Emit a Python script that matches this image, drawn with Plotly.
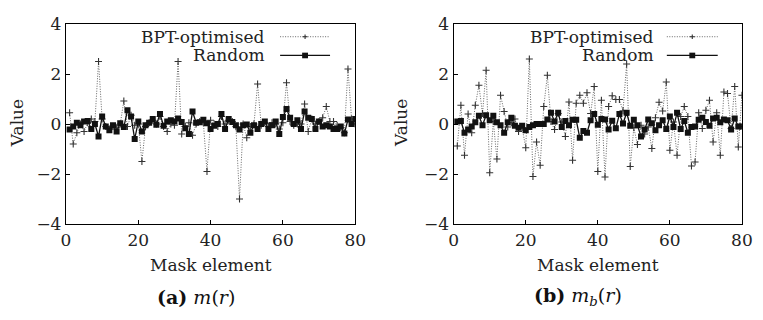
import plotly.graph_objects as go
from plotly.subplots import make_subplots

W, H = 763, 320

mask_element = list(range(1, 81))

# (a) m(r)
bpt_a = [0.45, -0.8, -0.35, 0.0, -0.3, 0.05, 0.2, 0.1, 2.5, 0.2,
         -0.1, -0.2, -0.1, -0.15, 0.0, 0.92, -0.1, 0.35, -0.05, 0.0,
         -1.5, -0.1, 0.05, 0.15, 0.0, 0.3, -0.1, -0.3, 0.0, -0.05,
         2.5, -0.4, -0.1, 0.05, -0.45, 0.0, 0.1, 0.05, -1.9, 0.15,
         0.0, -0.1, 0.3, 0.0, 0.15, 0.1, -0.1, -3.0, 0.0, -0.55,
         -0.1, 0.0, 1.6, -0.05, 0.05, -0.1, 0.05, 0.0, -0.2, 0.05,
         1.65, 0.1, -0.05, 0.0, 0.0, 0.8, -0.3, 0.2, 0.0, 0.1,
         0.25, 0.7, 0.1, 0.1, -0.05, -0.15, -0.35, 2.2, 0.2, 0.0]
random_a = [-0.22, -0.1, 0.05, -0.05, 0.1, 0.12, -0.2, 0.0, -0.5, 0.3,
            -0.1, -0.25, -0.05, -0.3, 0.03, -0.12, 0.55, 0.3, -0.6, 0.1,
            -0.3, -0.05, 0.05, 0.2, -0.03, 0.4, -0.07, 0.1, 0.15, 0.1,
            0.22, 0.08, -0.17, -0.4, 0.5, 0.05, 0.07, 0.17, 0.03, -0.2,
            -0.07, 0.0, 0.4, -0.2, 0.2, 0.08, -0.05, -0.22, -0.05, -0.02,
            -0.35, -0.05, -0.2, 0.0, 0.1, -0.2, -0.05, 0.1, -0.4, 0.28,
            0.6, 0.25, 0.0, 0.15, -0.2, 0.5, 0.25, 0.2, -0.2, 0.1,
            -0.1, -0.05, -0.1, -0.2, -0.2, -0.1, -0.38, 0.18, 0.0, 0.2]

# (b) m_b(r)
bpt_b = [-0.88, 0.75, -1.25, 0.4, -0.35, 0.75, 1.55, 0.42, 2.15, -1.95,
         0.1, -1.4, 1.15, 0.5, -0.12, 0.05, 0.2, -0.3, -0.15, -0.95,
         2.6, -2.1, -0.72, -1.65, 0.7, 1.95, 0.1, -0.22, 0.42, 0.08,
         -0.5, 0.88, -1.45, 0.83, 1.15, 0.83, 1.25, 0.42, 1.5, -1.9,
         0.95, -2.12, 0.7, 1.13, 0.98, 0.98, 0.53, 2.4, -1.7, -0.15,
         -0.82, -0.05, -0.4, -0.12, -0.98, 0.25, 0.87, 0.52, 1.68, -1.05,
         0.08, -1.25, 0.3, 0.7, 0.3, -1.68, -1.52, 0.45, -0.18, 0.55,
         0.95, -0.72, 0.45, -1.25, 1.28, 1.22, -0.18, 1.5, -0.92, 1.15]
random_b = [0.1, 0.12, -0.35, -0.22, -0.1, 0.07, 0.33, -0.05, 0.35, 0.15,
            0.33, 0.07, -0.05, -0.35, 0.07, 0.25, -0.07, -0.15, -0.07, -0.25,
            -0.12, -0.05, 0.0, 0.0, 0.0, 0.18, 0.45, 0.1, 0.45, -0.12,
            0.12, -0.05, 0.17, 0.17, -0.55, -0.28, -0.35, 0.15, 0.4, -0.03,
            0.2, 0.18, -0.22, 0.13, -0.17, 0.4, 0.02, 0.45, -0.07, 0.17,
            -0.05, -0.5, -0.22, 0.18, 0.03, -0.25, -0.05, 0.15, -0.2, 0.3,
            -0.12, 0.45, -0.2, 0.12, -0.35, -0.12, -0.1, 0.17, 0.25, 0.08,
            -0.07, 0.22, 0.25, 0.07, 0.18, 0.15, -0.22, 0.22, -0.1, -0.1]

x_ticks = [0, 20, 40, 60, 80]
y_ticks = [-4, -2, 0, 2, 4]
y_tick_text = ["\u22124", "\u22122", "0", "2", "4"]
series_names = ["BPT-optimised", "Random"]
panel_titles = ["<b>(a)</b> <i>m</i>(<i>r</i>)",
                "<b>(b)</b> <i>m</i><sub><i>b</i></sub>(<i>r</i>)"]

FONT = "DejaVu Serif"
BPT_COLOR = "#666666"
RND_COLOR = "#111111"

def px(x):
    return x / W

def py(y):
    return 1 - y / H

fig = make_subplots(rows=1, cols=2)

panels = [(bpt_a, random_a), (bpt_b, random_b)]
for i, (bpt, rnd) in enumerate(panels, start=1):
    fig.add_trace(go.Scatter(
        x=mask_element, y=bpt, mode="lines+markers", name=series_names[0],
        line=dict(color=BPT_COLOR, width=1, dash="1px,1.5px"),
        marker=dict(symbol="cross-thin", size=5, line=dict(color="#333333", width=1.1)),
        showlegend=False), row=1, col=i)
    fig.add_trace(go.Scatter(
        x=mask_element, y=rnd, mode="lines+markers", name=series_names[1],
        line=dict(color=RND_COLOR, width=1.3),
        marker=dict(symbol="square", size=6, color=RND_COLOR),
        showlegend=False), row=1, col=i)

# domains in pixels
x_domains = [(62.3, 357.7), (458.3, 752.7)]
y_top, y_bot = 15, 228.3

axis_common = dict(showgrid=False, zeroline=False, showline=True, linecolor="black",
                   linewidth=1.3, mirror=True, ticks="inside", ticklen=4, tickwidth=1,
                   tickcolor="black",
                   tickfont=dict(family=FONT, size=17, color="#222222"))

for i, (x0, x1) in enumerate(x_domains, start=1):
    fig.update_xaxes(domain=[px(x0), px(x1)], range=[0, 80], tickvals=x_ticks,
                     **axis_common, row=1, col=i)
    fig.update_yaxes(domain=[py(y_bot), py(y_top)], range=[-4, 4], tickvals=y_ticks,
                     ticktext=y_tick_text, **axis_common, row=1, col=i)

annotations = []
shapes = []
# axis titles and panel captions
for (x0, x1), title, cap_x, val_x in zip(x_domains, panel_titles, [195, 585], [13, 405]):
    cx = (x0 + x1) / 2
    annotations.append(dict(x=px(cx), y=py(272), xref="paper", yref="paper",
                            text="Mask element", showarrow=False,
                            font=dict(family=FONT, size=17, color="#222222"),
                            xanchor="center", yanchor="middle"))
    annotations.append(dict(x=px(val_x), y=py(121), xref="paper", yref="paper",
                            text="Value", showarrow=False, textangle=-90,
                            font=dict(family=FONT, size=17, color="#222222"),
                            xanchor="center", yanchor="middle"))
    annotations.append(dict(x=px(cap_x), y=py(306), xref="paper", yref="paper",
                            text=title, showarrow=False,
                            font=dict(family=FONT, size=19, color="#111111"),
                            xanchor="center", yanchor="middle"))

# legends (gnuplot style: text right-aligned, sample to the right)
legend_specs = [(268, 281, 332), (665, 676, 728)]
for text_right, l0, l1 in legend_specs:
    mid = (l0 + l1) / 2
    for name, ly in zip(series_names, [28.5, 48.5]):
        annotations.append(dict(x=px(text_right), y=py(ly), xref="paper", yref="paper",
                                text=name, showarrow=False,
                                font=dict(family=FONT, size=17, color="#222222"),
                                xanchor="right", yanchor="middle"))
    # BPT sample
    shapes.append(dict(type="line", xref="paper", yref="paper",
                       x0=px(l0), x1=px(l1), y0=py(28.5), y1=py(28.5),
                       line=dict(color=BPT_COLOR, width=1, dash="1px,1.5px")))
    shapes.append(dict(type="line", xref="paper", yref="paper",
                       x0=px(mid - 2.5), x1=px(mid + 2.5), y0=py(28.5), y1=py(28.5),
                       line=dict(color="#333333", width=1.1)))
    shapes.append(dict(type="line", xref="paper", yref="paper",
                       x0=px(mid), x1=px(mid), y0=py(26), y1=py(31),
                       line=dict(color="#333333", width=1.1)))
    # Random sample
    shapes.append(dict(type="line", xref="paper", yref="paper",
                       x0=px(l0), x1=px(l1), y0=py(48.5), y1=py(48.5),
                       line=dict(color=RND_COLOR, width=1.3)))
    shapes.append(dict(type="rect", xref="paper", yref="paper",
                       x0=px(mid - 3), x1=px(mid + 3), y0=py(51.5), y1=py(45.5),
                       fillcolor=RND_COLOR, line=dict(width=0)))

fig.update_layout(width=W, height=H, margin=dict(l=0, r=0, t=0, b=0),
                  paper_bgcolor="white", plot_bgcolor="white",
                  font=dict(family=FONT),
                  annotations=annotations, shapes=shapes, showlegend=False)

fig.write_html("out.html")
